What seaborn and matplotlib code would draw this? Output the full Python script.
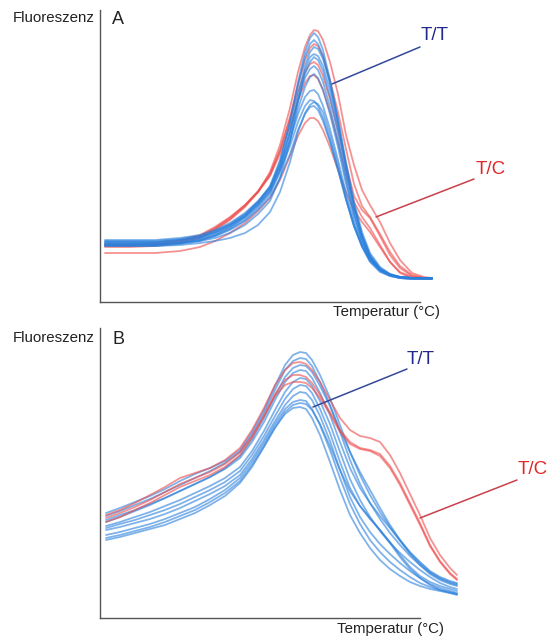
import numpy as np
import pandas as pd
import matplotlib
matplotlib.use("Agg")
import matplotlib.pyplot as plt
from matplotlib.lines import Line2D
import seaborn as sns

# ---------------- data (arbitrary units) ----------------
# Panel A: temperature grid and fluorescence curves
temps_A = [5, 30, 55, 80, 100, 115, 130, 145, 158, 170, 180, 190, 198, 205, 210,
           214, 218, 223, 230, 238, 246, 254, 262, 270, 280, 290, 300, 312, 324, 332]

A_TT_1 = [59,59,59,61,64,69,76,86,99,114,140,180,220,250,264,269,265,252,222,182,137,97,67,47,34,28,25,24,24,24]
A_TT_2 = [60,60,60,62,65,70,77,87,100,116,142,180,217,245,258,262,258,246,218,178,134,95,66,46,33,27,25,24,24,24]
A_TT_3 = [58,58,58,60,63,68,75,85,97,112,136,172,208,236,250,255,253,243,220,183,140,100,70,49,35,28,25,24,24,24]
A_TT_4 = [57,57,57,59,62,67,74,84,96,110,133,168,202,228,240,245,242,231,205,168,127,90,63,44,32,27,24,23,23,23]
A_TT_5 = [62,62,62,64,67,72,79,89,101,115,138,170,202,224,233,236,232,220,195,160,122,88,62,44,32,27,25,24,24,24]
A_TT_6 = [56,56,56,58,61,66,73,82,94,108,130,162,193,215,225,228,224,212,188,155,118,85,60,43,32,27,24,23,23,23]
A_TT_7 = [60,60,60,62,65,70,77,86,98,111,131,156,180,196,202,201,196,184,162,133,103,76,56,41,31,26,24,24,24,24]
A_TT_8 = [57,57,57,59,62,66,72,81,92,105,124,148,172,188,195,196,192,181,160,132,102,76,55,40,30,26,24,23,23,23]
A_TT_9 = [61,61,61,63,66,71,78,88,100,114,135,162,188,205,211,212,208,196,173,142,109,80,58,42,32,27,25,24,24,24]
A_TT_10 = [56,56,56,57,59,61,64,69,77,90,110,140,170,189,197,200,198,190,167,137,104,76,56,42,32,27,25,24,24,24]
A_TT_11 = [58,58,58,59,61,64,69,77,88,101,124,160,200,232,245,248,246,236,212,176,134,96,66,46,33,27,25,24,24,24]

A_TC_1 = [55,55,56,59,64,72,82,95,110,130,157,194,230,255,267,272,271,262,240,208,167,137,112,97,80,59,42,29,25,24]
A_TC_2 = [57,57,58,61,66,74,84,97,111,128,152,183,210,230,238,240,237,226,203,172,138,106,92,84,66,47,34,26,24,24]
A_TC_3 = [58,58,59,62,67,75,85,97,110,126,148,176,201,219,226,227,223,212,190,160,128,100,85,74,57,40,29,24,23,23]
A_TC_4 = [49,49,49,51,55,61,69,79,91,104,122,146,166,179,184,184,181,172,155,132,110,92,80,70,55,40,30,25,24,24]
A_TC_5 = [56,56,57,60,65,73,83,96,110,127,151,185,217,242,254,258,256,246,222,190,153,118,96,85,68,50,36,27,24,24]

# Panel B
temps_B = [6, 20, 35, 50, 65, 80, 95, 110, 125, 140, 152, 164, 175, 185, 193, 200, 206,
           212, 220, 230, 240, 250, 260, 270, 280, 290, 300, 310, 320, 330, 340, 350, 357]

B_TT_1 = [105,110,116,122,129,137,144,150,157,168,186,208,232,253,263,266,265,258,243,220,193,166,143,123,106,91,78,66,56,47,41,37,35]
B_TT_2 = [102,107,113,119,126,133,140,147,155,166,183,205,228,248,257,260,259,252,236,213,186,158,134,115,99,85,73,62,53,45,39,35,33]
B_TT_3 = [98,103,108,114,120,127,134,141,149,160,176,196,218,236,245,248,247,240,225,203,176,150,130,115,102,90,77,64,53,44,38,34,32]
B_TT_4 = [92,96,101,106,112,118,125,132,140,151,167,187,208,226,236,240,239,232,217,194,166,139,118,101,87,75,65,56,48,41,35,31,29]
B_TT_5 = [90,94,98,103,108,114,121,128,136,147,163,182,202,219,229,233,232,225,209,185,156,130,112,99,88,76,63,51,42,36,32,29,27]
B_TT_6 = [88,91,95,99,104,110,117,124,132,143,159,178,197,213,222,226,225,218,202,177,148,121,101,86,74,64,55,47,40,34,30,27,25]
B_TT_7 = [83,86,90,94,99,105,111,119,128,140,156,175,194,209,216,218,217,209,193,168,140,114,94,78,66,56,48,41,35,31,28,26,24]
B_TT_8 = [78,81,85,89,93,99,105,113,122,135,151,171,190,204,210,211,209,200,183,156,128,103,85,70,58,49,42,36,32,29,27,25,24]
B_TT_9 = [80,83,87,91,96,102,108,116,125,137,153,172,191,206,213,215,214,208,194,172,148,127,112,100,88,75,61,49,40,33,28,25,23]
B_TT_10 = [96,101,107,113,120,127,134,141,150,162,179,200,222,241,250,253,252,246,232,212,188,166,146,128,110,93,78,65,55,46,40,36,34]

B_TC_1 = [103,108,115,123,131,140,145,150,158,170,188,210,233,248,255,256,254,248,236,218,200,188,182,180,176,163,145,124,103,80,63,50,43]
B_TC_2 = [96,101,108,115,123,131,137,143,151,163,180,202,224,238,243,243,241,235,223,206,188,176,170,168,164,152,135,115,95,73,57,45,39]
B_TC_3 = [100,105,111,118,126,134,140,146,154,166,182,202,222,233,236,236,235,230,220,204,186,174,169,167,162,150,133,113,93,72,56,44,38]

panel_A = {"T/T": [A_TT_1, A_TT_2, A_TT_3, A_TT_4, A_TT_5, A_TT_6, A_TT_7, A_TT_8,
                   A_TT_9, A_TT_10, A_TT_11],
           "T/C": [A_TC_1, A_TC_2, A_TC_3, A_TC_4, A_TC_5]}
panel_B = {"T/T": [B_TT_1, B_TT_2, B_TT_3, B_TT_4, B_TT_5, B_TT_6, B_TT_7, B_TT_8, B_TT_9, B_TT_10],
           "T/C": [B_TC_1, B_TC_2, B_TC_3]}


def to_long(temps, groups):
    rows = []
    for g, curves in groups.items():
        for i, c in enumerate(curves):
            for t, f in zip(temps, c):
                rows.append({"temp": t, "fluor": f, "genotype": g, "curve": f"{g}-{i}"})
    return pd.DataFrame(rows)


df_A = to_long(temps_A, panel_A)
df_B = to_long(temps_B, panel_B)

# ---------------- style ----------------
sns.set_style("white")
plt.rcParams["font.family"] = ["Liberation Sans", "DejaVu Sans"]

W, H = 547, 639
fig = plt.figure(figsize=(W / 100, H / 100), dpi=100)
palette = {"T/T": "#2a80dc", "T/C": "#ee4a4a"}


def px(x, y):
    return x / W, 1 - y / H


def setup_axes(ax, xmax, ymax, xspine):
    ax.set_xlim(0, xmax)
    ax.set_ylim(0, ymax)
    ax.set_xticks([])
    ax.set_yticks([])
    ax.set_xlabel("")
    ax.set_ylabel("")
    for s in ["top", "right"]:
        ax.spines[s].set_visible(False)
    for s in ["left", "bottom"]:
        ax.spines[s].set_color("#555555")
        ax.spines[s].set_linewidth(1.0)
    ax.spines["bottom"].set_bounds(0, xspine)
    ax.patch.set_alpha(0)


# Panel A
axA = fig.add_axes([100 / W, 1 - 302 / H, 345 / W, 292 / H])
sns.lineplot(data=df_A, x="temp", y="fluor", hue="genotype", units="curve",
             estimator=None, hue_order=["T/C", "T/T"], palette=palette,
             lw=1.3, alpha=0.6, legend=False, sort=False, ax=axA)
setup_axes(axA, 345, 292, 320)

# Panel B
axB = fig.add_axes([100 / W, 1 - 618 / H, 365 / W, 290 / H])
sns.lineplot(data=df_B, x="temp", y="fluor", hue="genotype", units="curve",
             estimator=None, hue_order=["T/T", "T/C"], palette=palette,
             lw=1.3, alpha=0.6, legend=False, sort=False, ax=axB)
setup_axes(axB, 365, 290, 320)

# ---------------- texts ----------------
navy = "#22298a"
red_txt = "#e02828"
dark = "#222222"
fig.text(*px(95, 18), "Fluoreszenz", ha="right", va="center", fontsize=10.8, color=dark)
fig.text(*px(112, 20), "A", ha="left", va="center", fontsize=13, color=dark)
fig.text(*px(440, 312), "Temperatur (°C)", ha="right", va="center", fontsize=10.8, color=dark)

fig.text(*px(95, 338), "Fluoreszenz", ha="right", va="center", fontsize=10.8, color=dark)
fig.text(*px(112, 339), "B", ha="left", va="center", fontsize=13, color=dark)
fig.text(*px(444, 629), "Temperatur (°C)", ha="right", va="center", fontsize=10.8, color=dark)

fig.text(*px(435, 36), "T/T", ha="center", va="center", fontsize=13.5, color=navy)
fig.text(*px(491, 169), "T/C", ha="center", va="center", fontsize=13.5, color=red_txt)
fig.text(*px(421, 360), "T/T", ha="center", va="center", fontsize=13.5, color=navy)
fig.text(*px(518, 470), "T/C", ha="left", va="center", fontsize=13.5, color=red_txt)

# leader lines
leaders = [((420, 47), (332, 84), "#34489a"),
           ((474, 179), (376, 217), "#c8404a"),
           ((407, 369), (313, 407), "#34489a"),
           ((517, 480), (420, 518), "#c8404a")]
for (x1, y1), (x2, y2), c in leaders:
    p1, p2 = px(x1, y1), px(x2, y2)
    fig.add_artist(Line2D([p1[0], p2[0]], [p1[1], p2[1]], transform=fig.transFigure,
                          color=c, lw=1.1))

fig.savefig("out.png", dpi=100)
